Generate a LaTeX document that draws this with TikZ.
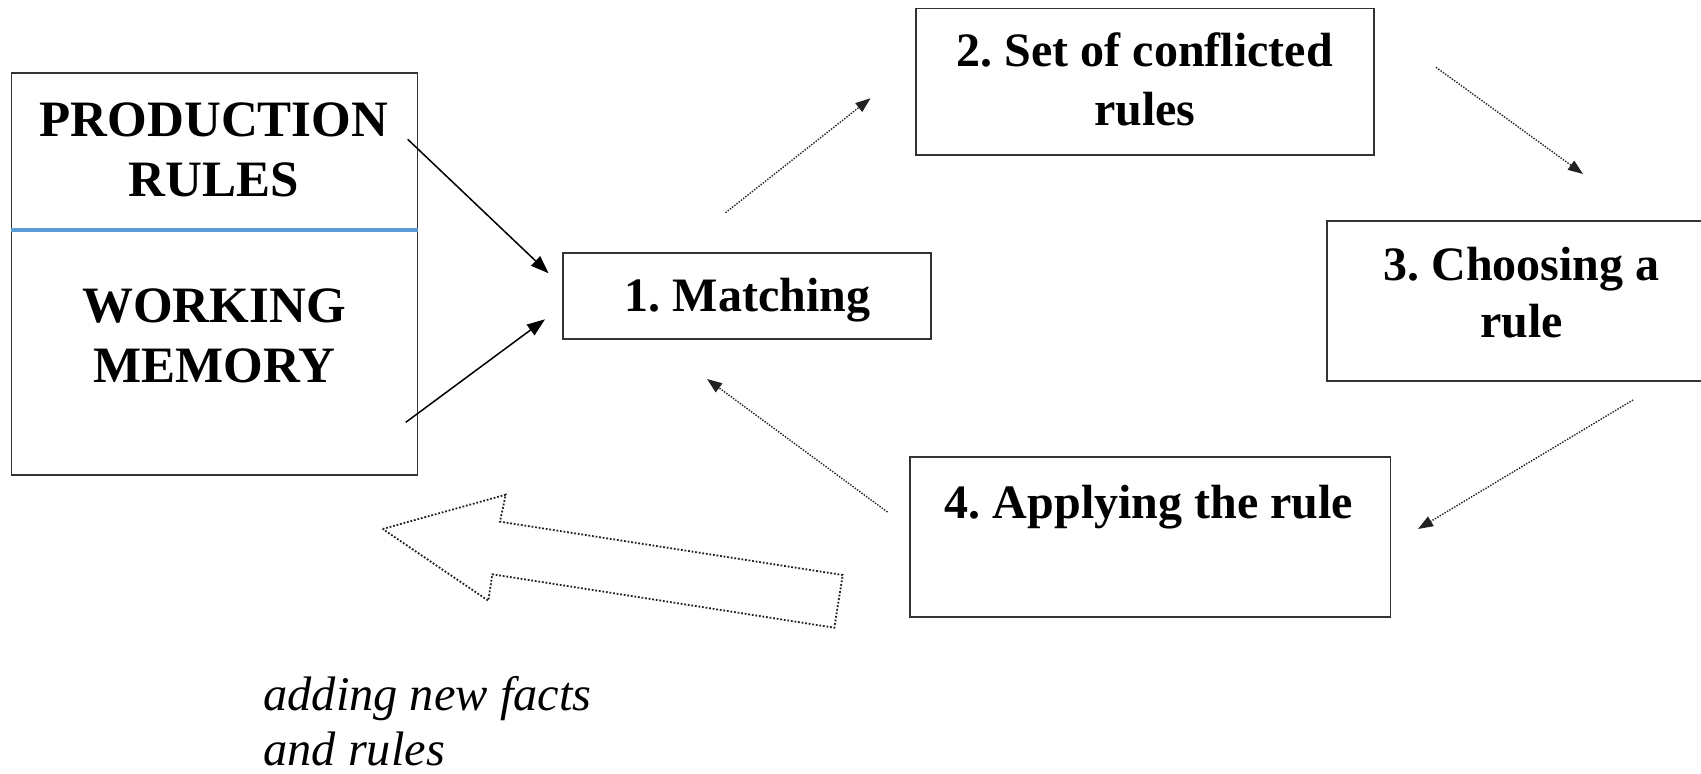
\documentclass[tikz,border=0pt]{standalone}
\usepackage{fontspec}
\setmainfont{Liberation Serif}
\usetikzlibrary{arrows.meta}
\frenchspacing
\definecolor{boxline}{HTML}{333333}
\definecolor{divblue}{HTML}{5B9BD5}
\definecolor{dotgray}{HTML}{222222}
\tikzset{
  boxnode/.style={draw=boxline, line width=0.8pt, inner sep=0pt, rectangle},
  boldtext/.style={font=\fontsize{24}{29.7}\selectfont\bfseries, align=center, inner sep=0pt, anchor=base},
  bigtext/.style={font=\fontsize{25.5}{30.3}\selectfont\bfseries, align=center, inner sep=0pt, anchor=base},
  soliddarrow/.style={draw=black, line width=0.75pt, -{Triangle[length=9pt,width=6.5pt]}},
  dotarrow/.style={draw=dotgray, line width=0.7pt, dash pattern=on 0.7pt off 0.7pt, -{Triangle[length=7.5pt,width=5.5pt]}},
  bigarrowstyle/.style={draw=dotgray, line width=0.9pt, dash pattern=on 0.9pt off 0.9pt, line join=miter},
}
\begin{document}
\begin{tikzpicture}[x=0.5pt,y=-0.5pt]
\useasboundingbox (0,0) rectangle (1701,774);
\begin{scope}
\clip (0,0) rectangle (1701,774);
% boxes
\node[boxnode, minimum width=203pt, minimum height=200.8pt] (mem) at (214.5,274) {};
\draw[divblue, line width=2pt] (mem.west |- 0,230) -- (mem.east |- 0,230);
\node[boxnode, minimum width=184pt, minimum height=43pt] (match) at (747,296) {};
\node[boxnode, minimum width=229pt, minimum height=73.3pt] (conf) at (1145,81.7) {};
\node[boxnode, minimum width=200pt, minimum height=80.2pt] (choose) at (1527,301) {};
\node[boxnode, minimum width=240.3pt, minimum height=80pt] (apply) at (1150,537) {};
% texts (base anchor = baseline of the last line)
\node[bigtext] (tpr) at (214,196.7) {PRODUCTION\\RULES};
\node[bigtext] (twm) at (214,382.7) {WORKING\\MEMORY};
\node[boldtext] (tmatch) at (747.5,311.7) {1. Matching};
\node[boldtext] (tconf) at (1144.8,126) {2. Set of conflicted\\rules};
\node[boldtext, font=\fontsize{24}{28.5}\selectfont\bfseries] (tchoose) at (1521.5,338) {3. Choosing a\\rule};
\node[boldtext] (tapply) at (1149,518) {4. Applying the rule};
\node[font=\fontsize{24.2}{27.5}\selectfont\itshape, align=left, inner sep=0pt, anchor=base west] (tadd) at (263,765) {adding new facts\\and rules};
% connector end points
\coordinate (prs) at (407.7,139.3);
\coordinate (pre) at (548.6,273.3);
\coordinate (wms) at (405.8,422.3);
\coordinate (wme) at (545,319.3);
\coordinate (m2s) at (725.5,212.7);
\coordinate (m2e) at (870.5,98.3);
\coordinate (c3s) at (1436,67.3);
\coordinate (c3e) at (1583,174);
\coordinate (a4s) at (1633,400);
\coordinate (a4e) at (1418,529);
\coordinate (b1s) at (887.4,512);
\coordinate (b1e) at (707,379);
% connectors
\draw[soliddarrow] (prs) -- (pre);
\draw[soliddarrow] (wms) -- (wme);
\draw[dotarrow] (m2s) -- (m2e);
\draw[dotarrow] (c3s) -- (c3e);
\draw[dotarrow] (a4s) -- (a4e);
\draw[dotarrow] (b1s) -- (b1e);
% big hollow arrow
\draw[bigarrowstyle] (382.7,529) -- (505.7,494.7) -- (500,521.7) -- (842.7,575) -- (834.3,627.7) -- (492.3,574.3) -- (488.3,600.7) -- cycle;
\end{scope}
\end{tikzpicture}
\end{document}
